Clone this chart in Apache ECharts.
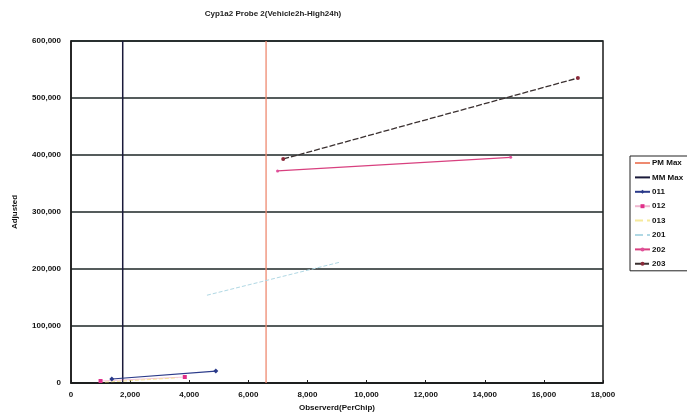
<!DOCTYPE html>
<html>
<head>
<meta charset="utf-8">
<script src="https://cdn.jsdelivr.net/npm/echarts@6/dist/echarts.min.js"></script>
<style>
  html, body { margin: 0; padding: 0; background: #fff; }
  #chart { width: 687px; height: 420px; }
</style>
</head>
<body>
<div id="chart"></div>
<script>
// Axis ticks
const xTicks = [0, 2000, 4000, 6000, 8000, 10000, 12000, 14000, 16000, 18000];
const yTicks = [0, 100000, 200000, 300000, 400000, 500000, 600000];

// Threshold lines (vertical) – observed value at which each max sits
const pmMax = [[6600, 0], [6600, 600000]];
const mmMax = [[1750, 0], [1750, 600000]];

// Sample series: [observed, adjusted]
const s011 = [[1380, 7000], [4900, 21000]];
const s012 = [[1000, 3500], [3850, 10500]];
const s013 = [[1150, 1500], [3600, 9000]];
const s201 = [[4600, 154000], [9100, 212000]];
const s202 = [[6990, 372000], [14875, 396000]];
const s203 = [[7180, 393000], [17150, 535000]];

const FONT = '"Liberation Sans", Arial, sans-serif';
const chart = echarts.init(document.getElementById('chart'));

function fmt(v) { return v.toLocaleString('en-US'); }

function lineSeries(name, data, color, opts) {
  return Object.assign({
    name: name,
    type: 'line',
    data: data,
    symbol: 'none',
    symbolSize: 4,
    lineStyle: { color: color, width: 1.2 },
    itemStyle: { color: color },
    animation: false,
    z: 3
  }, opts || {});
}

chart.setOption({
  backgroundColor: '#fff',
  title: {
    text: 'Cyp1a2 Probe 2(Vehicle2h-High24h)',
    left: 268, top: 5, textAlign: 'center',
    textStyle: { fontFamily: FONT, fontSize: 8, fontWeight: 'bold', color: '#222' }
  },
  grid: { left: 71, right: 84, top: 41, bottom: 37, show: true, borderColor: '#1a1a1a', borderWidth: 1.5 },
  xAxis: {
    type: 'value', min: 0, max: 18000, interval: 2000,
    name: 'Observerd(PerChip)', nameLocation: 'middle', nameGap: 18,
    nameTextStyle: { fontFamily: FONT, fontSize: 8, fontWeight: 'bold', color: '#111' },
    axisLine: { show: true, lineStyle: { color: '#1a1a1a', width: 1.5 } },
    axisTick: { show: true, inside: true, length: 3, lineStyle: { color: '#1a1a1a' } },
    axisLabel: { fontFamily: FONT, fontSize: 8, fontWeight: 'bold', color: '#111', margin: 8, formatter: v => fmt(v) },
    splitLine: { show: false }
  },
  yAxis: {
    type: 'value', min: 0, max: 600000, interval: 100000,
    name: 'Adjusted', nameLocation: 'middle', nameGap: 52, nameRotate: 90,
    nameTextStyle: { fontFamily: FONT, fontSize: 8, fontWeight: 'bold', color: '#111' },
    axisLine: { show: true, lineStyle: { color: '#1a1a1a', width: 1.5 } },
    axisTick: { show: false },
    axisLabel: { fontFamily: FONT, fontSize: 8, fontWeight: 'bold', color: '#111', margin: 10, formatter: v => fmt(v) },
    splitLine: { show: true, lineStyle: { color: '#1c2626', width: 1.6 } }
  },
  legend: {
    orient: 'vertical', left: 630, top: 156,
    backgroundColor: '#fff', borderColor: '#222', borderWidth: 1,
    padding: [3, 20, 3, 4], itemGap: 6.4, itemWidth: 15, itemHeight: 5,
    textStyle: { fontFamily: FONT, fontSize: 8, fontWeight: 'bold', color: '#111', padding: [0, 0, 0, -3] },
    data: ['PM Max', 'MM Max', '011', '012', '013', '201', '202', '203']
  },
  series: [
    lineSeries('PM Max', pmMax, '#f0907a', { lineStyle: { color: '#ee8a70', width: 1.3 }, itemStyle: { color: 'rgba(0,0,0,0)' }, z: 2 }),
    lineSeries('MM Max', mmMax, '#1a1a3a', { lineStyle: { color: '#1a1a3a', width: 1.5 }, itemStyle: { color: 'rgba(0,0,0,0)' }, z: 2 }),
    lineSeries('011', s011, '#2a3a8a', { symbol: 'diamond', symbolSize: 5 }),
    lineSeries('012', s012, '#e0308a', { symbol: 'rect', symbolSize: 4, lineStyle: { color: '#e070a0', width: 0.8, opacity: 0.5 } }),
    lineSeries('013', s013, '#f2e070', { symbol: 'triangle', symbolSize: 4, itemStyle: { color: 'rgba(0,0,0,0)' }, lineStyle: { color: '#f2e070', width: 1, type: 'dashed', opacity: 0.7 } }),
    lineSeries('201', s201, '#a8e0ee', { symbol: 'none', itemStyle: { color: 'rgba(0,0,0,0)' }, lineStyle: { color: '#b0d8e4', width: 1, type: 'dashed' } }),
    lineSeries('202', s202, '#e0509a', { symbol: 'circle', symbolSize: 3, lineStyle: { color: '#d8407f', width: 1.2 } }),
    lineSeries('203', s203, '#5a3a3a', { symbol: 'circle', symbolSize: 4, lineStyle: { color: '#3a3030', width: 1.3, type: [6, 2] }, itemStyle: { color: '#8a2a3a' } })
  ]
});
</script>
</body>
</html>
